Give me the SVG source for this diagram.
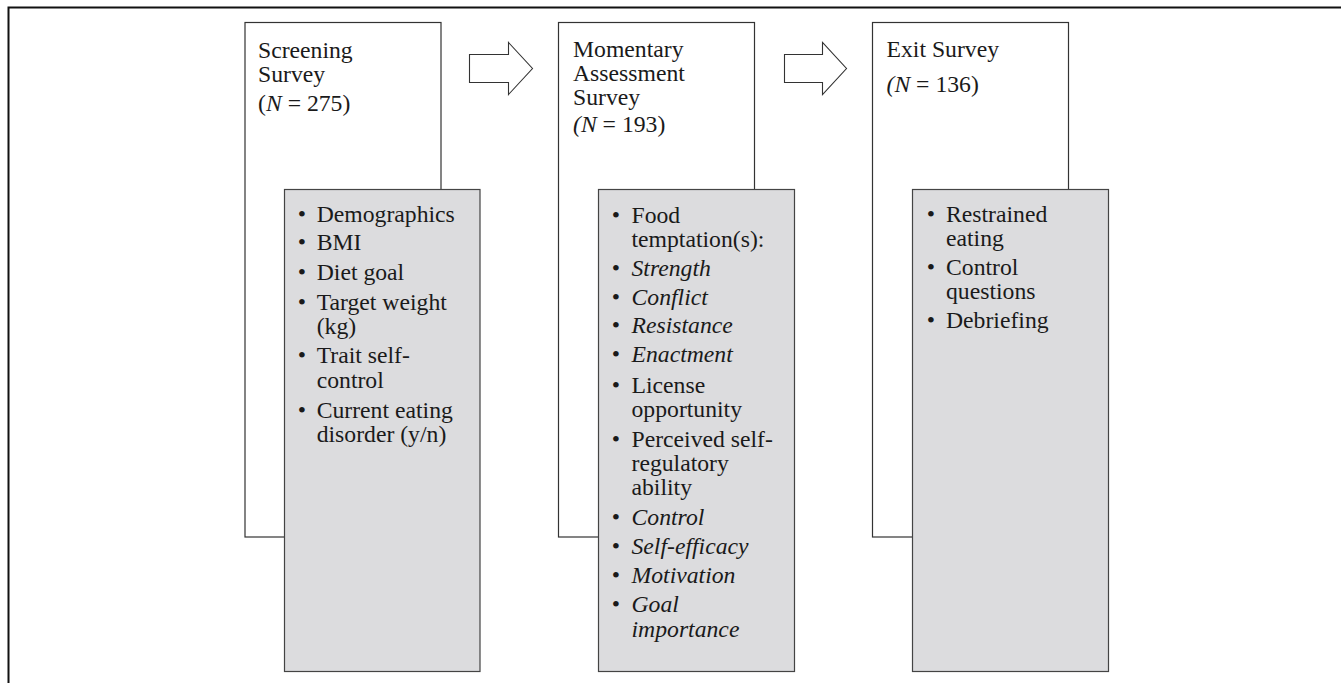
<svg xmlns="http://www.w3.org/2000/svg" width="1341" height="683" viewBox="0 0 1341 683">
<style>
.frame{stroke:#111;stroke-width:2;fill:none}
.outer{fill:#fff;stroke:#333;stroke-width:1.2}
.inner{fill:#dcdcde;stroke:#444;stroke-width:1.2}
.arrow{fill:#fff;stroke:#333;stroke-width:1.1;stroke-linejoin:miter}
text{font-family:"Liberation Serif","Times New Roman",serif;font-size:23.7px;fill:#1a1a1a}
.i{font-style:italic}
.b{text-anchor:middle}
</style>
<rect width="1341" height="683" fill="#fff"/>
<path class="frame" d="M8.5 683 V7.5 H1341"/>
<g id="connectors">
<path class="arrow" d="M469.5 54.5 H508.5 V42.5 L532.5 68.5 L508.5 94.5 V82.5 H469.5 Z"/>
<path class="arrow" d="M784.5 54.5 H822.5 V42.5 L846.5 68.5 L822.5 94.5 V82.5 H784.5 Z"/>
</g>
<g id="screening">
<rect class="outer" x="245" y="22.5" width="196" height="514.5"/>
<text x="258" y="58">Screening</text>
<text x="258" y="82">Survey</text>
<text x="258" y="111">(<tspan class="i">N</tspan> = 275)</text>
</g>
<g id="screening-items">
<rect class="inner" x="284.5" y="189.5" width="195.5" height="482"/>
<g class="b"><text x="302" y="221.7">•</text><text x="302" y="250">•</text><text x="302" y="280">•</text><text x="302" y="310">•</text><text x="302" y="363.3">•</text><text x="302" y="418.3">•</text></g>
<text x="316.7" y="221.7">Demographics</text>
<text x="316.7" y="250">BMI</text>
<text x="316.7" y="280">Diet goal</text>
<text x="316.7" y="310">Target weight</text>
<text x="316.7" y="334">(kg)</text>
<text x="316.7" y="363.3">Trait self-</text>
<text x="316.7" y="388">control</text>
<text x="316.7" y="418.3">Current eating</text>
<text x="316.7" y="442">disorder (y/n)</text>
</g>
<g id="momentary">
<rect class="outer" x="558.5" y="22.5" width="196" height="514.5"/>
<text x="573" y="57">Momentary</text>
<text x="573" y="81">Assessment</text>
<text x="573" y="105">Survey</text>
<text x="573" y="132"><tspan class="i">(N</tspan> = 193)</text>
</g>
<g id="momentary-items">
<rect class="inner" x="598.5" y="189.5" width="196" height="482"/>
<g class="b"><text x="616" y="222.5">•</text><text x="616" y="275.5">•</text><text x="616" y="304.5">•</text><text x="616" y="333">•</text><text x="616" y="362">•</text><text x="616" y="392.5">•</text><text x="616" y="446.5">•</text><text x="616" y="525">•</text><text x="616" y="554">•</text><text x="616" y="583">•</text><text x="616" y="612">•</text></g>
<text x="631.5" y="222.5">Food</text>
<text x="631.5" y="247">temptation(s):</text>
<text x="631.5" y="275.5" class="i">Strength</text>
<text x="631.5" y="304.5" class="i">Conflict</text>
<text x="631.5" y="333" class="i">Resistance</text>
<text x="631.5" y="362" class="i">Enactment</text>
<text x="631.5" y="392.5">License</text>
<text x="631.5" y="417">opportunity</text>
<text x="631.5" y="446.5">Perceived self-</text>
<text x="631.5" y="471">regulatory</text>
<text x="631.5" y="495">ability</text>
<text x="631.5" y="525" class="i">Control</text>
<text x="631.5" y="554" class="i">Self-efficacy</text>
<text x="631.5" y="583" class="i">Motivation</text>
<text x="631.5" y="612" class="i">Goal</text>
<text x="631.5" y="636.5" class="i">importance</text>
</g>
<g id="exit">
<rect class="outer" x="872.5" y="22.5" width="196" height="514.5"/>
<text x="886.5" y="57">Exit Survey</text>
<text x="886.5" y="92"><tspan class="i">(N</tspan> = 136)</text>
</g>
<g id="exit-items">
<rect class="inner" x="912.5" y="189.5" width="196" height="482"/>
<g class="b"><text x="931" y="222">•</text><text x="931" y="275">•</text><text x="931" y="328">•</text></g>
<text x="946" y="222">Restrained</text>
<text x="946" y="246">eating</text>
<text x="946" y="275">Control</text>
<text x="946" y="299">questions</text>
<text x="946" y="328">Debriefing</text>
</g>
</svg>
